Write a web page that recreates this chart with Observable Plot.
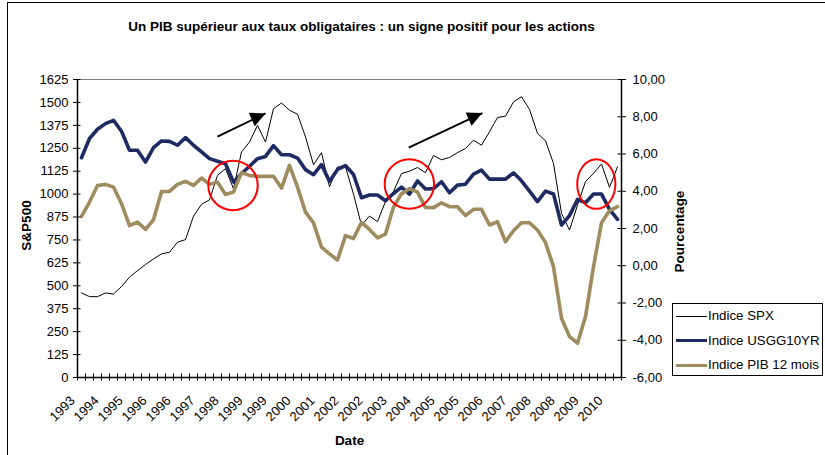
<!DOCTYPE html>
<html>
<head>
<meta charset="utf-8">
<script src="https://cdn.jsdelivr.net/npm/d3@7"></script>
<script src="https://cdn.jsdelivr.net/npm/@observablehq/plot@0.6"></script>
<style>
  body { margin: 0; background: #fff; }
  #wrap { position: relative; width: 825px; height: 455px; overflow: hidden; background: #fff; }
  #frame { position: absolute; left: 7px; top: 2px; width: 840px; height: 480px; border-left: 1px solid #000; border-top: 1px solid #000; pointer-events: none; }
  #title { width: 723px; height: 44px; box-sizing: border-box; padding-top: 20px; text-align: center; font-weight: bold; color: #000; white-space: nowrap; }
  #legend { position: absolute; left: 672px; top: 303px; width: 151px; height: 73px; border: 1px solid #000; background: #fff; box-sizing: border-box; }
  .row { position: absolute; left: 0; height: 20px; width: 150px; }
  .sample { position: absolute; left: 3px; width: 31px; }
  .lab { position: absolute; left: 35px; top: 0; line-height: 20px; white-space: nowrap; color: #000; }
</style>
</head>
<body>
<div id="wrap">
  <div id="title">Un PIB supérieur aux taux obligataires : un signe positif pour les actions</div>
  <div id="chart"></div>
  <div id="legend"></div>
  <div id="frame"></div>
</div>
<script>
// ---------------- DATA ----------------
const xLabels = ["1993","1994","1995","1996","1996","1997","1998","1999","1999","2000","2001","2002","2002","2003","2004","2005","2005","2006","2007","2008","2008","2009","2010"];
const labelStep = 3;

// Indice SPX (left axis, points)
const spx = [461,441,441,461,455,496,547,583,616,647,674,683,738,752,880,944,969,1102,1139,1029,
             1230,1284,1375,1284,1466,1497,1457,1436,1312,1160,1226,1040,1148,1148,1000,830,880,850,960,1015,
             1112,1125,1145,1117,1211,1187,1200,1226,1249,1294,1267,1340,1418,1425,1503,1531,1462,1331,1291,1167,
             895,804,940,1068,1113,1164,1037,1149];

// Indice USGG10YR (right axis, %)
const usgg = [5.80,6.83,7.33,7.63,7.81,7.22,6.20,6.20,5.57,6.34,6.70,6.68,6.47,6.88,6.47,6.11,5.75,5.61,5.48,4.49,
              4.94,5.34,5.75,5.87,6.45,5.96,5.96,5.78,5.16,4.89,5.43,4.53,5.17,5.38,4.90,3.65,3.80,3.80,3.49,3.88,
              4.22,3.85,4.55,4.12,4.14,4.51,3.92,4.33,4.38,4.92,5.13,4.65,4.65,4.65,4.99,4.56,4.01,3.44,4.01,3.85,
              2.19,2.69,3.56,3.38,3.85,3.85,3.03,2.49];

// Indice PIB 12 mois (right axis, %)
const pib = [2.65,3.42,4.31,4.37,4.22,3.33,2.16,2.34,1.95,2.47,3.99,3.99,4.37,4.53,4.31,4.71,4.37,4.49,3.83,3.96,
             5.00,4.85,4.80,4.80,4.80,4.17,5.39,4.22,2.88,2.30,1.00,0.64,0.31,1.62,1.46,2.33,1.95,1.50,1.70,3.15,
             3.87,4.14,3.95,3.13,3.12,3.38,3.17,3.17,2.69,3.03,3.03,2.19,2.36,1.29,1.88,2.31,2.31,1.92,1.24,-0.05,
             -2.82,-3.80,-4.16,-2.73,-0.05,2.31,2.95,3.17];

const leftTicks = [0,125,250,375,500,625,750,875,1000,1125,1250,1375,1500,1625];
const rightTicks = [-6,-4,-2,0,2,4,6,8,10];

const seriesNames = ["Indice SPX","Indice USGG10YR","Indice PIB 12 mois"];
const seriesColors = ["#000000","#1e2b63","#9e8b5e"];

// annotations (in data units: x = period index, y = S&P500 units)
const circles = [{x: 18.94, y: 1047}, {x: 40.98, y: 1055}];
const ellipses = [{x: 64.35, y: 1055}];
const arrows = [{x1: 17.0, y1: 1314, x2: 23.0, y2: 1440}, {x1: 40.9, y1: 1253, x2: 50.1, y2: 1442}];

// ---------------- FONTS ----------------
function hasFont(f) {
  const c = document.createElement("canvas").getContext("2d");
  const s = "mmmmmmmmmmlli 1625 Indice WWW";
  c.font = "40px monospace"; const a = c.measureText(s).width;
  c.font = `40px "${f}", monospace`; const b = c.measureText(s).width;
  c.font = "40px serif"; const a2 = c.measureText(s).width;
  c.font = `40px "${f}", serif`; const b2 = c.measureText(s).width;
  return a !== b && a2 !== b2;
}
const narrow = hasFont("Liberation Sans Narrow");
const FAM = narrow ? `"Liberation Sans Narrow", "Liberation Sans", Arial, sans-serif` : `"Liberation Sans", Arial, sans-serif`;
const SZ = narrow ? {tick: 15.5, title: 16, axt: 16, leg: 15.5} : {tick: 13, title: 13.5, axt: 13.5, leg: 13.3};

// ---------------- SCALES ----------------
const lMin = leftTicks[0], lMax = leftTicks[leftTicks.length - 1];
const rMin = rightTicks[0], rMax = rightTicks[rightTicks.length - 1];
const toLeft = p => (p - rMin) / (rMax - rMin) * (lMax - lMin) + lMin;
const fromLeft = v => (v - lMin) / (lMax - lMin) * (rMax - rMin) + rMin;
const fmtR = p => (Math.round(p * 100) / 100).toFixed(2).replace(".", ",");

const N = spx.length;
const idx = d3.range(N);
const bounds = d3.range(N + 1).map(i => i - 0.5);
const labelIdx = xLabels.map((_, k) => k * labelStep);

const W = 825, H = 411, mL = 77, mR = 204, mT = 35, mB = 78;
const pxX = (N) / (W - mL - mR);          // x units per pixel
const pxY = (lMax - lMin) / (H - mT - mB); // y units per pixel
const tickIn = 3.5;

function ellipseSym(ratio) {
  return {draw(ctx, size) {
    const r = Math.sqrt(size / Math.PI), rx = r * ratio, ry = r, k = 0.5523;
    ctx.moveTo(rx, 0);
    ctx.bezierCurveTo(rx, ry * k, rx * k, ry, 0, ry);
    ctx.bezierCurveTo(-rx * k, ry, -rx, ry * k, -rx, 0);
    ctx.bezierCurveTo(-rx, -ry * k, -rx * k, -ry, 0, -ry);
    ctx.bezierCurveTo(rx * k, -ry, rx, -ry * k, rx, 0);
    ctx.closePath();
  }};
}
function headSym(deg, L, Wd) {
  return {draw(ctx) {
    const a = deg * Math.PI / 180, ux = Math.cos(a), uy = Math.sin(a);
    const bx = -L * ux, by = -L * uy, px = -uy, py = ux;
    ctx.moveTo(0, 0);
    ctx.lineTo(bx + Wd * px, by + Wd * py);
    ctx.lineTo(bx - Wd * px, by - Wd * py);
    ctx.closePath();
  }};
}

const chart = Plot.plot({
  width: W, height: H,
  marginLeft: mL, marginRight: mR, marginTop: mT, marginBottom: mB,
  x: {type: "linear", domain: [-0.5, N - 0.5], axis: null},
  y: {domain: [lMin, lMax], axis: null},
  style: {fontFamily: FAM, fontSize: SZ.tick + "px", color: "#000", background: "transparent", overflow: "visible"},
  marks: [
    // top border of plot area
    Plot.ruleY([lMax], {stroke: "#7f7f7f", strokeWidth: 1}),
    // series
    Plot.line(idx, {x: i => i, y: i => spx[i], stroke: seriesColors[0], strokeWidth: 1}),
    Plot.line(idx, {x: i => i, y: i => toLeft(usgg[i]), stroke: seriesColors[1], strokeWidth: 3.6, strokeLinejoin: "round"}),
    Plot.line(idx, {x: i => i, y: i => toLeft(pib[i]), stroke: seriesColors[2], strokeWidth: 3.6, strokeLinejoin: "round"}),
    // axis lines
    Plot.ruleX([-0.5, N - 0.5], {stroke: "#000", strokeWidth: 1.5}),
    Plot.ruleY([lMin], {stroke: "#000", strokeWidth: 1.5}),
    // left axis
    Plot.axisY({anchor: "left", ticks: leftTicks, tickSize: 4, tickPadding: 5, label: null, tickFormat: d => String(d)}),
    Plot.ruleY(leftTicks, {y: d => d, x1: -0.5, x2: -0.5 + tickIn * pxX, stroke: "#000"}),
    // right axis
    Plot.axisY({anchor: "right", ticks: rightTicks.map(toLeft), tickSize: 4, tickPadding: 7, label: null, tickFormat: v => fmtR(fromLeft(v))}),
    Plot.ruleY(rightTicks.map(toLeft), {y: d => d, x1: N - 0.5 - tickIn * pxX, x2: N - 0.5, stroke: "#000"}),
    // x axis cross ticks
    Plot.ruleX(bounds, {x: d => d, y1: lMin - tickIn * pxY, y2: lMin + tickIn * pxY, stroke: "#000"}),
    // x labels
    Plot.text(labelIdx, {x: d => d, frameAnchor: "bottom", text: (d, k) => xLabels[k], rotate: -45, textAnchor: "end", lineAnchor: "bottom", dx: -6, dy: 24}),
    // axis titles
    Plot.text(["S&P500"], {frameAnchor: "left", textAnchor: "middle", lineAnchor: "middle", dx: -51, dy: -3, rotate: -90, fontWeight: "bold", fontSize: SZ.axt}),
    Plot.text(["Pourcentage"], {frameAnchor: "right", textAnchor: "middle", lineAnchor: "middle", dx: 58, dy: 3, rotate: -90, fontWeight: "bold", fontSize: SZ.axt}),
    Plot.text(["Date"], {frameAnchor: "bottom", textAnchor: "middle", dy: 67, fontWeight: "bold", fontSize: SZ.axt}),
    // annotations
    Plot.dot(circles, {x: "x", y: "y", r: 24.7, stroke: "#ff0000", strokeWidth: 2, fill: "none"}),
    Plot.dot(ellipses, {x: "x", y: "y", r: 24.8, symbol: ellipseSym(0.77), stroke: "#ff0000", strokeWidth: 2, fill: "none"}),
    Plot.link(arrows, {x1: "x1", y1: "y1", x2: "x2", y2: "y2", stroke: "#000", strokeWidth: 2}),
    Plot.dot(arrows, {x: "x2", y: "y2", r: 8, symbol: headSym(-24, 15, 7.3), fill: "#000", stroke: "none"})
  ]
});
document.getElementById("chart").appendChild(chart);

// title
const t = document.getElementById("title");
t.style.fontFamily = FAM; t.style.fontSize = SZ.title + "px"; t.style.lineHeight = SZ.title + "px";

// legend
const leg = document.getElementById("legend");
const rowTops = [12, 36.5, 61];
const widths = [1, 3, 3];
seriesNames.forEach((name, k) => {
  const row = document.createElement("div");
  row.className = "row";
  row.style.top = (rowTops[k] - 10) + "px";
  const s = document.createElement("div");
  s.className = "sample";
  s.style.top = (10 - widths[k] / 2) + "px";
  s.style.height = widths[k] + "px";
  s.style.background = seriesColors[k];
  const l = document.createElement("div");
  l.className = "lab";
  l.textContent = name;
  l.style.fontFamily = FAM; l.style.fontSize = SZ.leg + "px";
  row.appendChild(s); row.appendChild(l);
  leg.appendChild(row);
});
</script>
</body>
</html>
